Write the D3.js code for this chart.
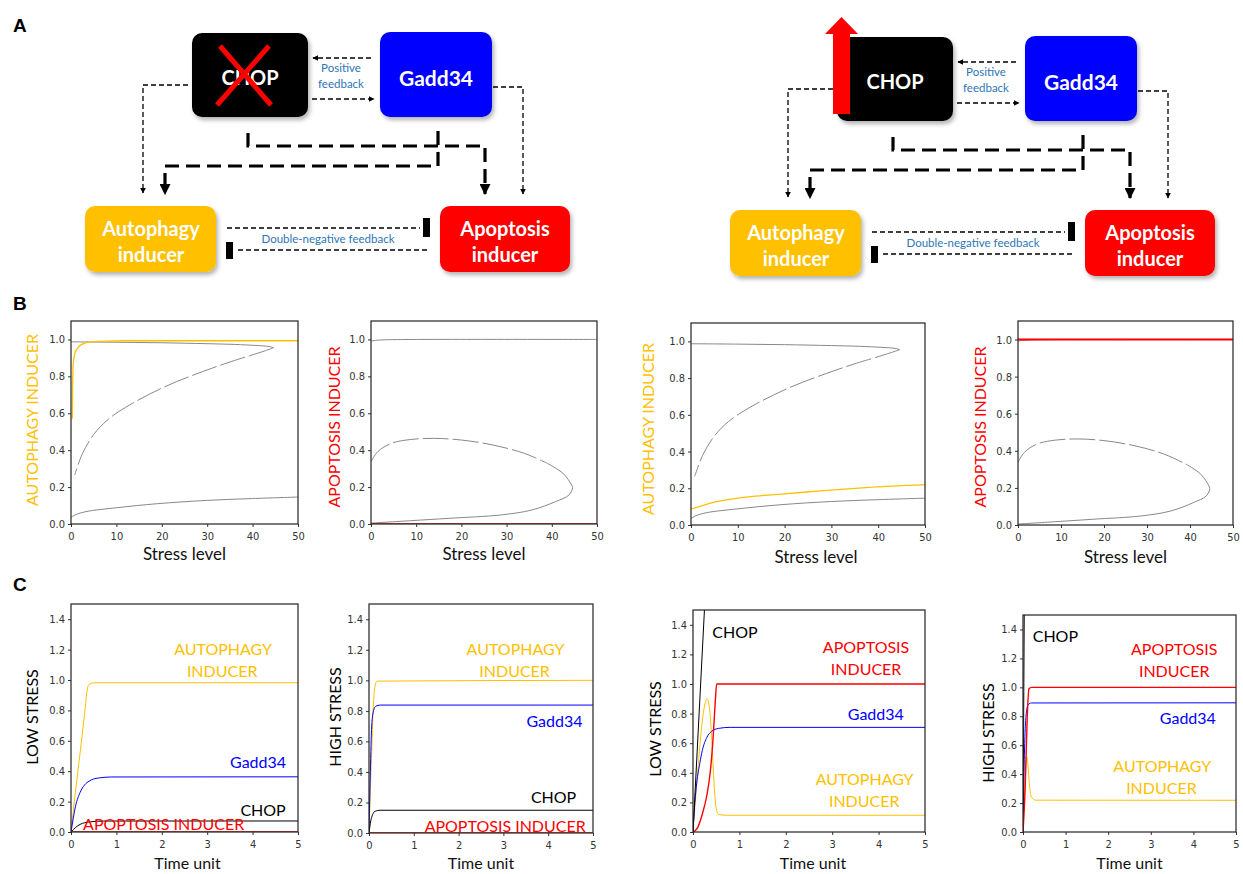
<!DOCTYPE html>
<html>
<head>
<meta charset="utf-8">
<script src="https://cdn.jsdelivr.net/npm/d3@7"></script>
<style>
  body { margin: 0; background: #fff; }
  svg { display: block; }
  .tick text { font-family: "Liberation Sans Narrow", "DejaVu Sans Condensed", Arial, sans-serif; font-stretch: condensed; font-size: 11px; fill: #333; }
  .tick line { stroke: #333; }
</style>
</head>
<body>
<svg id="fig" width="1243" height="874"></svg>
<script>
// ---- Panel B: steady states vs stress level ----
const stressTicks = [0, 10, 20, 30, 40, 50];
const steadyTicks = [0, 0.2, 0.4, 0.6, 0.8, 1.0];

const autoStableHigh = [[0, 0.987], [10, 0.985], [20, 0.982], [30, 0.977], [36, 0.973], [41, 0.967], [43.6, 0.962], [44.6, 0.955]];
const autoUnstable = [[44.6, 0.955], [42.8, 0.939], [39.4, 0.912], [36, 0.886], [29, 0.826], [20.5, 0.742], [12, 0.632], [8, 0.563], [5, 0.485], [2.5, 0.38], [0.8, 0.265]];
const autoStableLow = [[0, 0.036], [1, 0.05], [3.3, 0.067], [10, 0.088], [19, 0.11], [30, 0.128], [40, 0.138], [50, 0.146]];

const apopStableHigh = [[0, 0.991], [1, 0.995], [3, 0.998], [10, 1.0], [50, 1.0]];
const apopUnstable = [[0, 0.338], [1.5, 0.392], [4.5, 0.437], [8.8, 0.458], [14, 0.464], [20, 0.455], [27, 0.428], [33.9, 0.383], [39, 0.329]];
const apopStableLow = [[39, 0.329], [42.5, 0.274], [44.4, 0.211], [44.6, 0.197], [43.8, 0.157], [40.8, 0.121], [35.6, 0.076], [28.7, 0.049], [17.4, 0.031], [8.8, 0.018], [0, 0.005]];

const autoLevelKO = [[0.3, 0.57], [0.35, 0.75], [0.5, 0.87], [0.8, 0.92], [1.5, 0.955], [2.5, 0.975], [4, 0.985], [7, 0.99], [12, 0.993], [50, 0.993]];
const apopLevelKO = [[0, 0], [50, 0]];
const autoLevelOE = [[0, 0.086], [3.8, 0.117], [12.2, 0.153], [20.6, 0.171], [29, 0.189], [37.4, 0.204], [50, 0.22]];
const apopLevelOE = [[0, 1], [50, 1]];

// ---- Panel C: time courses ----
const timeTicks = [0, 1, 2, 3, 4, 5];
const levelTicks = [0, 0.2, 0.4, 0.6, 0.8, 1.0, 1.2, 1.4];

const koLowAuto = [[0, 0], [0.1, 0.27], [0.2, 0.52], [0.3, 0.78], [0.36, 0.94], [0.4, 0.972], [0.5, 0.982], [5, 0.982]];
const koLowGadd = [[0, 0], [0.05, 0.09], [0.1, 0.17], [0.2, 0.26], [0.3, 0.31], [0.4, 0.335], [0.6, 0.355], [0.9, 0.362], [5, 0.363]];
const koLowChop = [[0, 0], [0.1, 0.03], [0.2, 0.05], [0.4, 0.066], [0.7, 0.072], [5, 0.0725]];
const koLowApop = [[0, 0], [5, 0]];

const koHighAuto = [[0, 0], [0.05, 0.45], [0.1, 0.85], [0.14, 0.97], [0.18, 0.995], [5, 1.0]];
const koHighGadd = [[0, 0], [0.03, 0.4], [0.06, 0.7], [0.1, 0.8], [0.15, 0.83], [0.25, 0.838], [5, 0.838]];
const koHighChop = [[0, 0], [0.04, 0.08], [0.08, 0.12], [0.14, 0.143], [0.25, 0.149], [5, 0.149]];
const koHighApop = [[0, 0], [5, 0]];

const oeLowAuto = [[0, 0], [0.1, 0.4], [0.2, 0.75], [0.27, 0.88], [0.3, 0.9], [0.35, 0.85], [0.4, 0.65], [0.45, 0.35], [0.5, 0.16], [0.55, 0.12], [0.7, 0.113], [5, 0.113]];
const oeLowGadd = [[0, 0], [0.04, 0.2], [0.08, 0.33], [0.15, 0.47], [0.2, 0.55], [0.3, 0.64], [0.4, 0.68], [0.55, 0.7], [0.8, 0.707], [5, 0.707]];
const oeLowChop = [[0, 0], [0.25, 1.52]];
const oeLowApop = [[0, 0], [0.1, 0.03], [0.2, 0.12], [0.3, 0.25], [0.37, 0.4], [0.43, 0.62], [0.48, 0.88], [0.51, 1.0], [5, 1.0]];

const oeHighAuto = [[0, 0], [0.05, 0.35], [0.09, 0.52], [0.12, 0.45], [0.15, 0.33], [0.2, 0.24], [0.3, 0.22], [5, 0.219]];
const oeHighGadd = [[0, 0], [0.03, 0.5], [0.07, 0.8], [0.12, 0.88], [0.2, 0.892], [5, 0.893]];
const oeHighChop = [[0, 0], [0.03, 1.55]];
const oeHighApop = [[0, 0], [0.05, 0.3], [0.1, 0.8], [0.14, 0.99], [0.2, 1.0], [5, 1.0]];

// ---- colours & fonts ----
const YEL = "#ffc000", RED = "#ff0000", BLUE = "#0000ff", GRAY = "#888888";
const TXT = "Lato, 'Open Sans', sans-serif";

const svg = d3.select("#fig");
const defs = svg.append("defs");

const shadow = defs.append("filter").attr("id", "shadow").attr("x", "-10%").attr("y", "-10%").attr("width", "130%").attr("height", "140%");
shadow.append("feDropShadow").attr("dx", 2).attr("dy", 3).attr("stdDeviation", 2).attr("flood-color", "#000").attr("flood-opacity", 0.3);

function marker(id, size) {
  defs.append("marker").attr("id", id)
    .attr("viewBox", "0 0 10 10").attr("refX", 9).attr("refY", 5)
    .attr("markerWidth", size).attr("markerHeight", size)
    .attr("markerUnits", "userSpaceOnUse").attr("orient", "auto")
    .append("path").attr("d", "M0,0L10,5L0,10z").attr("fill", "#000");
}
marker("headThin", 6);
marker("headThick", 11);

// panel letters
[["A", 32], ["B", 310], ["C", 591]].forEach(([t, y]) => {
  svg.append("text").attr("x", 13).attr("y", y).text(t)
    .style("font-family", "'Liberation Sans', Arial, sans-serif").style("font-weight", "bold").style("font-size", "19px");
});

// ---- Panel A diagram ----
function drawDiagram(dx, dy, variant) {
  const g = svg.append("g").attr("transform", `translate(${dx},${dy})`);

  const boxes = [
    { x: 192, y: 33, w: 116, h: 84, fill: "#000" },
    { x: 380, y: 32, w: 112, h: 85, fill: BLUE },
    { x: 85, y: 206, w: 131, h: 66, fill: YEL },
    { x: 440, y: 206, w: 130, h: 66, fill: RED }
  ];
  g.selectAll("rect.box").data(boxes).join("rect").attr("class", "box")
    .attr("x", d => d.x).attr("y", d => d.y).attr("width", d => d.w).attr("height", d => d.h)
    .attr("rx", 10).attr("fill", d => d.fill).attr("filter", "url(#shadow)");

  const thin = [
    { d: "M371,58 L313,58", head: true },
    { d: "M312,99 L374,99", head: true },
    { d: "M188,85 L143,85 L143,193", head: true },
    { d: "M493,87 L523,87 L523,194", head: true },
    { d: "M227,228 L420,228", head: false },
    { d: "M427,250 L235,250", head: false }
  ];
  g.selectAll("path.thin").data(thin).join("path").attr("class", "thin")
    .attr("d", d => d.d).attr("fill", "none").attr("stroke", "#000").attr("stroke-width", 1.3)
    .attr("stroke-dasharray", "5,3").attr("marker-end", d => d.head ? "url(#headThin)" : null);

  const thick = ["M248,133 L248,146 L485,146 L485,194", "M438,131 L438,166 L165,166 L165,194"];
  g.selectAll("path.thick").data(thick).join("path").attr("class", "thick")
    .attr("d", d => d).attr("fill", "none").attr("stroke", "#000").attr("stroke-width", 3.2)
    .attr("stroke-dasharray", "14,7").attr("marker-end", "url(#headThick)");

  // inhibition bars
  g.append("rect").attr("x", 423).attr("y", 218).attr("width", 7).attr("height", 19).attr("fill", "#000");
  g.append("rect").attr("x", 226).attr("y", 242).attr("width", 7).attr("height", 17).attr("fill", "#000");

  const labels = [
    { t: "CHOP", x: 250, y: 77, s: 20 },
    { t: "Gadd34", x: 436, y: 77, s: 21 },
    { t: "Autophagy", x: 151, y: 228, s: 20 },
    { t: "inducer", x: 151, y: 254, s: 20 },
    { t: "Apoptosis", x: 505, y: 228, s: 20 },
    { t: "inducer", x: 505, y: 254, s: 20 }
  ];
  g.selectAll("text.node").data(labels).join("text").attr("class", "node")
    .attr("x", d => d.x).attr("y", d => d.y).attr("text-anchor", "middle").attr("dominant-baseline", "central")
    .style("font-family", TXT).style("font-weight", "bold").style("font-size", d => d.s + "px")
    .attr("fill", "#fff").text(d => d.t);

  const notes = [
    { t: "Positive", x: 341, y: 67 },
    { t: "feedback", x: 341, y: 83 },
    { t: "Double-negative feedback", x: 328, y: 238 }
  ];
  g.selectAll("text.note").data(notes).join("text").attr("class", "note")
    .attr("x", d => d.x).attr("y", d => d.y).attr("text-anchor", "middle").attr("dominant-baseline", "central")
    .style("font-family", TXT).style("font-size", "11.5px").attr("fill", "#2e75b6").text(d => d.t);

  if (variant === "ko") {
    g.append("path").attr("d", "M220,46 L271,105 M269,46 L217,105")
      .attr("stroke", RED).attr("stroke-width", 5).attr("fill", "none");
  } else {
    g.append("path").attr("d", "M188,110 L188,30 L180,30 L196.5,13 L213,30 L205,30 L205,110 Z").attr("fill", RED);
  }
}
drawDiagram(0, 0, "ko");
drawDiagram(645, 4, "oe");

// ---- plots ----
function drawPlot(cfg) {
  const x = d3.scaleLinear().domain(cfg.xDomain).range([cfg.left, cfg.right]);
  const y = d3.scaleLinear().domain(cfg.yDomain).range([cfg.bottom, cfg.top]);
  const g = svg.append("g");

  const clipId = "clip" + Math.round(cfg.left) + "_" + Math.round(cfg.top);
  defs.append("clipPath").attr("id", clipId).append("rect")
    .attr("x", cfg.left).attr("y", cfg.top).attr("width", cfg.right - cfg.left).attr("height", cfg.bottom - cfg.top);

  g.append("g").attr("transform", `translate(0,${cfg.bottom})`)
    .call(d3.axisBottom(x).tickValues(cfg.xTicks).tickSize(3).tickPadding(5).tickFormat(d3.format("d")))
    .call(a => a.select(".domain").remove());
  g.append("g").attr("transform", `translate(${cfg.left},0)`)
    .call(d3.axisLeft(y).tickValues(cfg.yTicks).tickSize(3).tickPadding(3).tickFormat(d3.format(".1f")))
    .call(a => a.select(".domain").remove());

  const lines = g.append("g").attr("clip-path", `url(#${clipId})`);
  cfg.series.forEach(s => {
    const line = d3.line().x(d => x(d[0])).y(d => y(d[1]))
      .curve(s.fold ? d3.curveCatmullRom.alpha(0.5) : d3.curveMonotoneX);
    lines.append("path").datum(s.data).attr("d", line)
      .attr("fill", "none").attr("stroke", s.color).attr("stroke-width", s.width || 1)
      .attr("stroke-dasharray", s.dash || null);
  });

  g.append("rect").attr("x", cfg.left).attr("y", cfg.top)
    .attr("width", cfg.right - cfg.left).attr("height", cfg.bottom - cfg.top)
    .attr("fill", "none").attr("stroke", "#222").attr("stroke-width", 1.2);

  g.append("text").attr("x", (cfg.left + cfg.right) / 2 + (cfg.xLabelShift || 0)).attr("y", cfg.xLabelY)
    .attr("text-anchor", "middle").attr("dominant-baseline", "central")
    .style("font-family", TXT).style("font-size", cfg.xLabelSize || "17px").attr("fill", "#111").text(cfg.xLabel);

  g.append("text").attr("transform", `translate(${cfg.yLabelX},${cfg.yLabelY}) rotate(-90)`)
    .attr("text-anchor", "middle").attr("dominant-baseline", "central")
    .style("font-family", TXT).style("font-size", "16px").attr("fill", cfg.yLabelColor).text(cfg.yLabel);

  (cfg.notes || []).forEach(n => {
    g.append("text").attr("x", x(n.at[0])).attr("y", y(n.at[1]))
      .attr("text-anchor", "middle").attr("dominant-baseline", "central")
      .style("font-family", TXT).style("font-size", "16px").attr("fill", n.color).text(n.t);
  });
}

const grayBranches = (hi, mid, lo) => [
  { data: hi, color: GRAY, fold: true },
  { data: mid, color: GRAY, dash: "26,4", fold: true },
  { data: lo, color: GRAY, fold: true }
];

const bBase = { xDomain: [0, 50], yDomain: [0, 1.1], xTicks: stressTicks, yTicks: steadyTicks, xLabel: "Stress level" };
drawPlot({ ...bBase, left: 71, right: 298, top: 321, bottom: 524, xLabelY: 553,
  yLabel: "AUTOPHAGY INDUCER", yLabelColor: YEL, yLabelX: 31, yLabelY: 420,
  series: [...grayBranches(autoStableHigh, autoUnstable, autoStableLow), { data: autoLevelKO, color: YEL, width: 1.3 }] });
drawPlot({ ...bBase, left: 371, right: 597, top: 321, bottom: 524, xLabelY: 553,
  yLabel: "APOPTOSIS INDUCER", yLabelColor: RED, yLabelX: 333, yLabelY: 427,
  series: [...grayBranches(apopStableHigh, apopUnstable, apopStableLow), { data: apopLevelKO, color: RED, width: 1.6 }] });
drawPlot({ ...bBase, left: 691, right: 925, top: 323, bottom: 525, xLabelY: 556, xLabelShift: 8,
  yLabel: "AUTOPHAGY INDUCER", yLabelColor: YEL, yLabelX: 647, yLabelY: 429,
  series: [...grayBranches(autoStableHigh, autoUnstable, autoStableLow), { data: autoLevelOE, color: YEL, width: 1.3 }] });
drawPlot({ ...bBase, left: 1018, right: 1233, top: 321, bottom: 525, xLabelY: 556,
  yLabel: "APOPTOSIS INDUCER", yLabelColor: RED, yLabelX: 979, yLabelY: 427,
  series: [...grayBranches(apopStableHigh, apopUnstable, apopStableLow), { data: apopLevelOE, color: RED, width: 2 }] });

const cBase = { xDomain: [0, 5], yDomain: [0, 1.5], xTicks: timeTicks, yTicks: levelTicks, xLabel: "Time unit", xLabelY: 862, xLabelSize: "16px" };
const ts = (auto, gadd, chop, apop) => [
  { data: auto, color: YEL },
  { data: gadd, color: BLUE },
  { data: chop, color: "#000" },
  { data: apop, color: RED, width: 1.4 }
];
drawPlot({ ...cBase, left: 71, right: 298, top: 604, bottom: 832, xLabelShift: 3,
  yLabel: "LOW STRESS", yLabelColor: "#000", yLabelX: 31, yLabelY: 717,
  series: ts(koLowAuto, koLowGadd, koLowChop, koLowApop),
  notes: [
    { t: "AUTOPHAGY", at: [3.35, 1.204], color: YEL }, { t: "INDUCER", at: [3.33, 1.06], color: YEL },
    { t: "Gadd34", at: [4.12, 0.467], color: BLUE }, { t: "CHOP", at: [4.23, 0.151], color: "#000" },
    { t: "APOPTOSIS INDUCER", at: [2.04, 0.053], color: RED }
  ] });
drawPlot({ ...cBase, left: 369, right: 593, top: 604, bottom: 833,
  yLabel: "HIGH STRESS", yLabelColor: "#000", yLabelX: 334, yLabelY: 717,
  series: ts(koHighAuto, koHighGadd, koHighChop, koHighApop),
  notes: [
    { t: "AUTOPHAGY", at: [3.27, 1.21], color: YEL }, { t: "INDUCER", at: [3.25, 1.067], color: YEL },
    { t: "Gadd34", at: [4.14, 0.74], color: BLUE }, { t: "CHOP", at: [4.12, 0.242], color: "#000" },
    { t: "APOPTOSIS INDUCER", at: [3.04, 0.052], color: RED }
  ] });
drawPlot({ ...cBase, left: 693, right: 925, top: 610, bottom: 832, xLabelShift: 4,
  yLabel: "LOW STRESS", yLabelColor: "#000", yLabelX: 654, yLabelY: 729,
  series: ts(oeLowAuto, oeLowGadd, oeLowChop, oeLowApop),
  notes: [
    { t: "CHOP", at: [0.905, 1.358], color: "#000" },
    { t: "APOPTOSIS", at: [3.73, 1.253], color: RED }, { t: "INDUCER", at: [3.73, 1.105], color: RED },
    { t: "Gadd34", at: [3.94, 0.802], color: BLUE },
    { t: "AUTOPHAGY", at: [3.7, 0.363], color: YEL }, { t: "INDUCER", at: [3.69, 0.216], color: YEL }
  ] });
drawPlot({ ...cBase, left: 1023, right: 1236, top: 615, bottom: 832,
  yLabel: "HIGH STRESS", yLabelColor: "#000", yLabelX: 987, yLabelY: 733,
  series: ts(oeHighAuto, oeHighGadd, oeHighChop, oeHighApop),
  notes: [
    { t: "CHOP", at: [0.76, 1.361], color: "#000" },
    { t: "APOPTOSIS", at: [3.55, 1.27], color: RED }, { t: "INDUCER", at: [3.55, 1.115], color: RED },
    { t: "Gadd34", at: [3.87, 0.79], color: BLUE },
    { t: "AUTOPHAGY", at: [3.27, 0.463], color: YEL }, { t: "INDUCER", at: [3.25, 0.309], color: YEL }
  ] });
</script>
</body>
</html>
